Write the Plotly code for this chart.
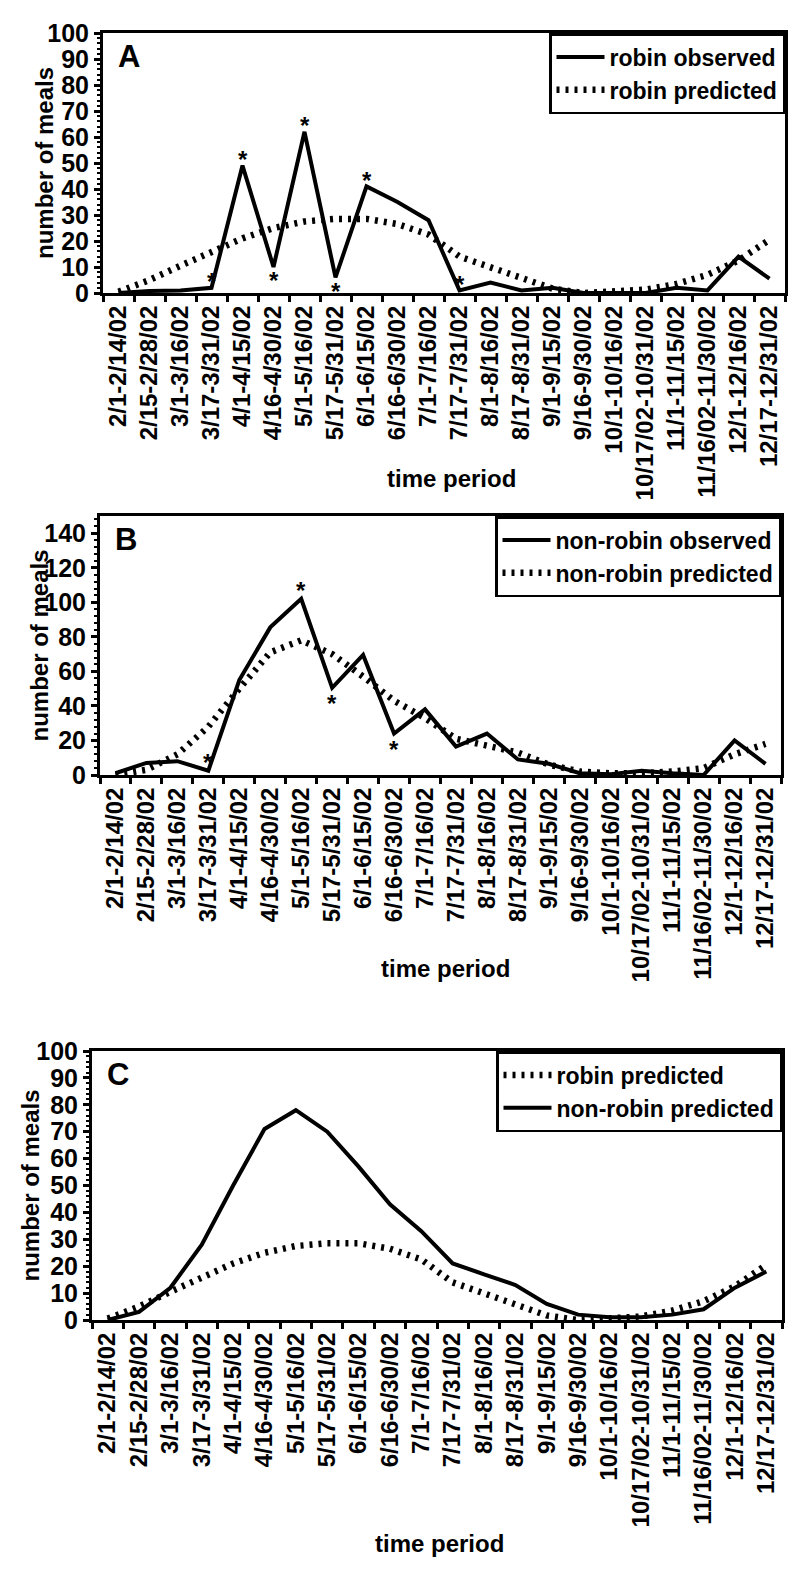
import plotly.graph_objects as go

# ---------------- data ----------------
categories = ["2/1-2/14/02", "2/15-2/28/02", "3/1-3/16/02", "3/17-3/31/02",
              "4/1-4/15/02", "4/16-4/30/02", "5/1-5/16/02", "5/17-5/31/02",
              "6/1-6/15/02", "6/16-6/30/02", "7/1-7/16/02", "7/17-7/31/02",
              "8/1-8/16/02", "8/17-8/31/02", "9/1-9/15/02", "9/16-9/30/02",
              "10/1-10/16/02", "10/17/02-10/31/02", "11/1-11/15/02",
              "11/16/02-11/30/02", "12/1-12/16/02", "12/17-12/31/02"]

robin_observed = [0, 0.8, 1, 2, 49, 10, 62, 6, 41, 35, 28, 1,
                  4, 1, 2, 0, 0, 0, 2, 1, 14, 5.5]
robin_predicted = [0.5, 5, 10.5, 16, 21, 25, 27.5, 28.5, 28.5, 26.5, 22.5, 14,
                   10, 6, 1.7, 0, 0.5, 1.3, 3.5, 7, 12.5, 20.5]
nonrobin_observed = [1, 7, 8, 2.5, 55, 85.5, 102, 50.5, 69.5, 24, 38, 16.5,
                     24, 9, 6.5, 1, 0.5, 2.5, 1, 0, 20, 6.5]
nonrobin_predicted = [0, 3, 12, 28, 50, 71, 78, 70, 57, 43, 33, 21,
                      17, 13, 6, 2, 1, 1, 2, 4, 12, 18]

# significance asterisks: (category index, position relative to point)
stars_A = [(3, "above"), (4, "above"), (5, "below"), (6, "above"),
           (7, "below"), (8, "above"), (11, "above")]
stars_B = [(3, "above"), (6, "above"), (7, "below"), (9, "below")]

panel_letters = ["A", "B", "C"]
y_ranges = [[0, 100], [0, 150], [0, 100]]
y_dticks = [10, 20, 10]
y_minor = [2, 4, 2]

# ---------------- style / layout ----------------
OFF = 8                      # default page body margin
W, H = 800 - OFF, 1569 - OFF
FONT = "Liberation Sans, Arial, Helvetica, sans-serif"


def px(x):
    return (x - OFF) / W


def py(y):
    return 1 - (y - OFF) / H


# pixel boxes (page coordinates) for each panel: (left, right, top, bottom)
boxes = [(103, 785, 33, 293), (100, 781, 516, 775), (92, 782, 1051, 1320)]

SOLID = dict(color="black", width=4)
DOTTED = dict(color="black", width=6.5, dash="3px,6px")

fig = go.Figure()

# Panel A
fig.add_trace(go.Scatter(x=categories, y=robin_observed, mode="lines", name="robin observed",
                         line=SOLID, xaxis="x", yaxis="y", legend="legend"))
fig.add_trace(go.Scatter(x=categories, y=robin_predicted, mode="lines", name="robin predicted",
                         line=DOTTED, xaxis="x", yaxis="y", legend="legend"))
# Panel B
fig.add_trace(go.Scatter(x=categories, y=nonrobin_observed, mode="lines", name="non-robin observed",
                         line=SOLID, xaxis="x2", yaxis="y2", legend="legend2"))
fig.add_trace(go.Scatter(x=categories, y=nonrobin_predicted, mode="lines", name="non-robin predicted",
                         line=DOTTED, xaxis="x2", yaxis="y2", legend="legend2"))
# Panel C
fig.add_trace(go.Scatter(x=categories, y=robin_predicted, mode="lines", name="robin predicted",
                         line=DOTTED, xaxis="x3", yaxis="y3", legend="legend3"))
fig.add_trace(go.Scatter(x=categories, y=nonrobin_predicted, mode="lines", name="non-robin predicted",
                         line=SOLID, xaxis="x3", yaxis="y3", legend="legend3"))

tickfont = dict(family=FONT, size=24, color="black", weight="bold")
layout = dict(width=W, height=H, margin=dict(l=0, r=0, t=0, b=0),
              paper_bgcolor="white", plot_bgcolor="white",
              font=dict(family=FONT, color="black", weight="bold"))

annotations = []
for i, (l, r, t, b) in enumerate(boxes):
    sx = "" if i == 0 else str(i + 1)
    layout["xaxis" + sx] = dict(
        domain=[px(l), px(r)], anchor="y" + sx, type="category",
        categoryorder="array", categoryarray=categories, range=[-0.5, 21.5],
        tickson="boundaries", ticks="outside", ticklen=6, tickwidth=2.5,
        tickcolor="black", showline=True, linewidth=3, linecolor="black",
        mirror=True, tickangle=-90, tickfont=tickfont, showgrid=False,
        zeroline=False, automargin=False)
    layout["yaxis" + sx] = dict(
        domain=[py(b), py(t)], anchor="x" + sx, range=y_ranges[i],
        dtick=y_dticks[i], tick0=0, ticks="outside", ticklen=6, tickwidth=2.5,
        tickcolor="black", showline=True, linewidth=3, linecolor="black",
        mirror=True, tickfont=dict(family=FONT, size=25, color="black", weight="bold"),
        showgrid=False, zeroline=False, automargin=False,
        minor=dict(ticks="outside", ticklen=3, tickwidth=1.5, dtick=y_minor[i],
                   tickcolor="black", showgrid=False))
    # panel letter
    annotations.append(dict(text=panel_letters[i], xref="paper", yref="paper",
                            x=px(l + 13), y=py(t + 23), xanchor="left", yanchor="middle",
                            showarrow=False,
                            font=dict(family=FONT, size=31, color="black", weight="bold")))

# legends
leg_common = dict(xref="paper", yref="paper", xanchor="right", yanchor="top",
                  bgcolor="white", bordercolor="black", borderwidth=2.5,
                  font=dict(family=FONT, size=23, color="black", weight="bold"),
                  tracegroupgap=0, itemwidth=48)
layout["legend"] = dict(leg_common, x=px(785), y=py(33))
layout["legend2"] = dict(leg_common, x=px(781), y=py(516))
layout["legend3"] = dict(leg_common, x=px(782), y=py(1051))

# axis titles
title_font = dict(family=FONT, size=24, color="black", weight="bold")
for (xc, yc) in [(452, 478), (446, 968), (440, 1543)]:
    annotations.append(dict(text="time period", xref="paper", yref="paper",
                            x=px(xc), y=py(yc), xanchor="center", yanchor="middle",
                            showarrow=False, font=title_font))
for (xc, (l, r, t, b)) in zip([45, 39, 30], boxes):
    annotations.append(dict(text="number of meals", xref="paper", yref="paper",
                            x=px(xc), y=py((t + b) / 2), xanchor="center", yanchor="middle",
                            textangle=-90, showarrow=False, font=title_font))

# asterisks
star_font = dict(family=FONT, size=24, color="black", weight="bold")
for (idx, pos) in stars_A:
    annotations.append(dict(text="*", xref="x", yref="y", x=categories[idx],
                            y=robin_observed[idx], showarrow=False, font=star_font,
                            yshift=6 if pos == "above" else -14))
for (idx, pos) in stars_B:
    annotations.append(dict(text="*", xref="x2", yref="y2", x=categories[idx],
                            y=nonrobin_observed[idx], showarrow=False, font=star_font,
                            yshift=8 if pos == "above" else -16))

layout["annotations"] = annotations
fig.update_layout(**layout)
fig.update_layout(showlegend=True)

fig.write_html("out.html")
